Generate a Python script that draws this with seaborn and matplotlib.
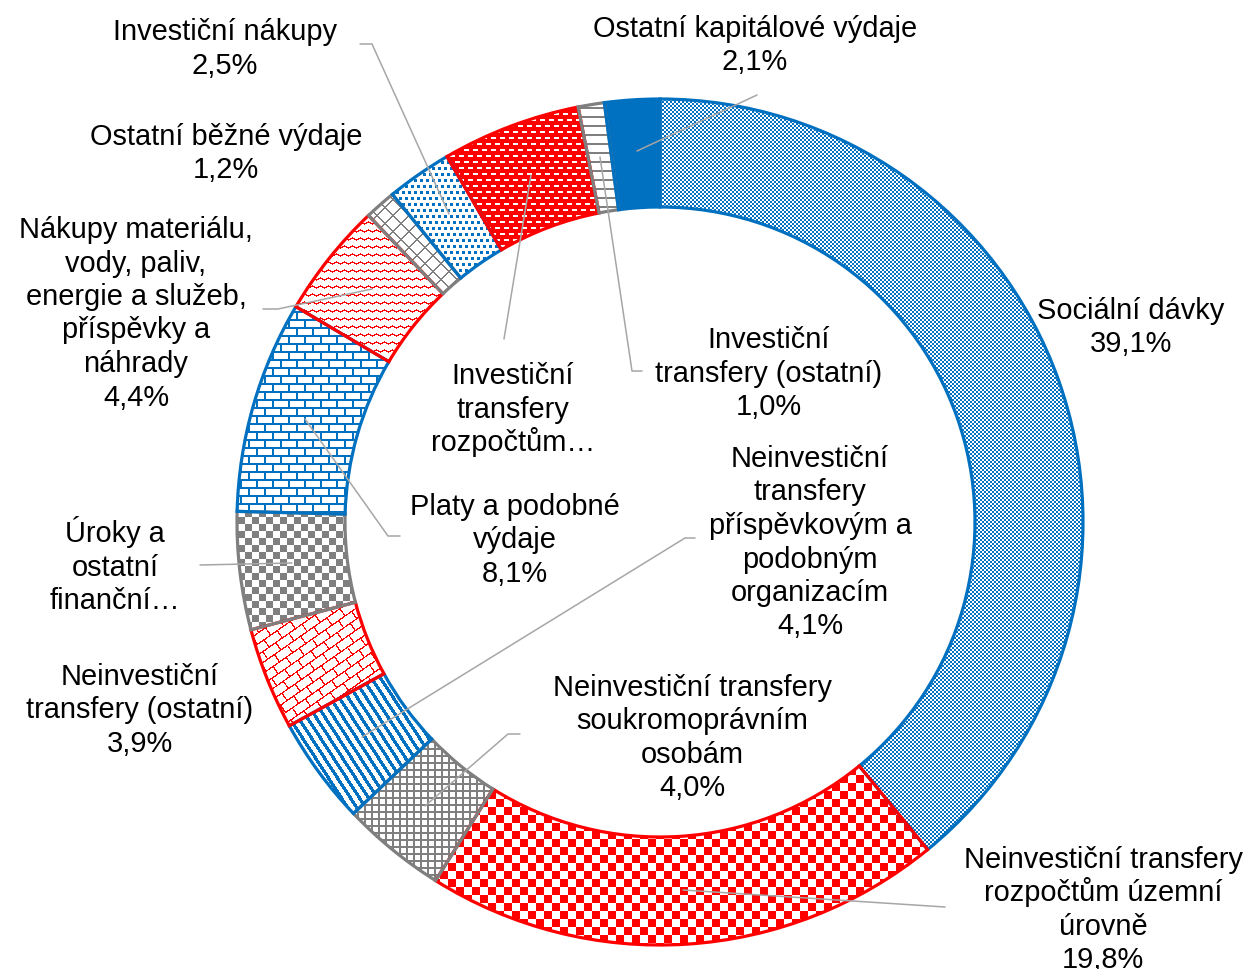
import numpy as np
import matplotlib
matplotlib.use('Agg')
import matplotlib.pyplot as plt
import seaborn as sns

sns.set_theme(style='white')
plt.rcParams['font.family'] = ['Liberation Sans', 'DejaVu Sans']

# data (clockwise from 12 o'clock)
categories = [
    'Sociální dávky',
    'Neinvestiční transfery rozpočtům územní úrovně',
    'Neinvestiční transfery soukromoprávním osobám',
    'Neinvestiční transfery příspěvkovým a podobným organizacím',
    'Neinvestiční transfery (ostatní)',
    'Úroky a ostatní finanční výdaje',
    'Platy a podobné výdaje',
    'Nákupy materiálu, vody, paliv, energie a služeb, příspěvky a náhrady',
    'Ostatní běžné výdaje',
    'Investiční nákupy',
    'Investiční transfery rozpočtům územní úrovně',
    'Investiční transfery (ostatní)',
    'Ostatní kapitálové výdaje',
]
shares = [39.1, 19.8, 4.0, 4.1, 3.9, 4.5, 8.1, 4.4, 1.2, 2.5, 5.3, 1.0, 2.1]
label_lines = [
    'Sociální dávky',
    'Neinvestiční transfery\nrozpočtům územní\núrovně',
    'Neinvestiční transfery\nsoukromoprávním\nosobám',
    'Neinvestiční\ntransfery\npříspěvkovým a\npodobným\norganizacím',
    'Neinvestiční\ntransfery (ostatní)',
    'Úroky a\nostatní\nfinanční…',
    'Platy a podobné\nvýdaje',
    'Nákupy materiálu,\nvody, paliv,\nenergie a služeb,\npříspěvky a\nnáhrady',
    'Ostatní běžné výdaje',
    'Investiční nákupy',
    'Investiční\ntransfery\nrozpočtům…',
    'Investiční\ntransfery (ostatní)',
    'Ostatní kapitálové výdaje',
]
show_value = [True, True, True, True, True, False, True, True, True, True, False, True, True]

BLUE, RED, GRAY = '#0070C0', '#FF0000', '#7F7F7F'
seg_colors = [BLUE, RED, GRAY] * 4 + [BLUE]
seg_patterns = ['fine_check', 'big_check', 'grid', 'stripes', 'diag_brick', 'check',
                'brick', 'wave', 'diag_cross', 'dots', 'dashes', 'hlines', 'solid']

# layout in image pixels (x, y of first text line)
label_pos = [(1131, 309), (1103, 858), (692, 686), (810, 457), (140, 675), (115, 532),
             (515, 505), (136, 228), (226, 135), (225, 30), (513, 374), (769, 338), (755, 27)]
leaders = [
    None,
    [(683, 891), (945, 908)],
    [(425, 807), (508, 735), (520, 735)],
    [(362, 738), (685, 539), (695, 539)],
    None,
    [(200, 566), (292, 564)],
    [(305, 420), (388, 537), (400, 537)],
    [(263, 310), (278, 310), (372, 290)],
    None,
    [(360, 45), (372, 45), (449, 215)],
    [(504, 340), (531, 176)],
    [(600, 158), (632, 372), (642, 372)],
    [(637, 152), (757, 96)],
]

W, H = 1248, 970
cx, cy, R, ring = 660, 523, 423, 108
yy, xx = np.mgrid[0:H, 0:W]


def texture(name):
    if name == 'fine_check':
        return (xx // 2 + yy // 2) % 2 == 0
    if name == 'big_check':
        return (xx // 8 + yy // 8) % 2 == 0
    if name == 'check':
        return (xx // 7 + yy // 7) % 2 == 0
    if name == 'grid':
        return (xx % 7 < 2) | (yy % 7 < 2)
    if name == 'stripes':
        return (xx - 0.65 * yy) % 9 < 4
    if name == 'diag_brick':
        th = np.deg2rad(35)
        u = xx * np.cos(th) - yy * np.sin(th)
        v = xx * np.sin(th) + yy * np.cos(th)
        row = np.floor(v / 9)
        return (v % 9 < 1.3) | ((u + 8 * (row % 2)) % 16 < 1.3)
    if name == 'brick':
        row = yy // 8
        return (yy % 8 < 2) | ((xx + 8 * (row % 2)) % 16 < 2)
    if name == 'wave':
        tri = np.abs(xx % 8 - 4) / 2
        return (yy + tri) % 8 < 1.5
    if name == 'diag_cross':
        return ((xx + yy) % 16 < 2) | ((xx - yy) % 16 < 2)
    if name == 'dots':
        row = yy // 6
        return (yy % 6 < 3) & ((xx + 3 * (row % 2)) % 6 < 3)
    if name == 'dashes':
        row = yy // 6
        return ~((yy % 6 < 2) & ((xx + 4 * (row % 2)) % 9 < 5))
    if name == 'hlines':
        return yy % 9 < 2
    return np.ones_like(xx, dtype=bool)


fig = plt.figure(figsize=(12.48, 9.7), dpi=100)
ax = fig.add_axes([0, 0, 1, 1])

wedges, _ = ax.pie(shares, startangle=90, counterclock=False, center=(cx, H - cy),
                   radius=R, frame=True,
                   wedgeprops=dict(width=ring, linewidth=2.3, facecolor='none'))

for w, col, pat in zip(wedges, seg_colors, seg_patterns):
    w.set_edgecolor(col)
    w.set_zorder(3)
    rgb = (np.array(matplotlib.colors.to_rgb(col)) * 255).astype(np.uint8)
    img = np.full((H, W, 4), 255, dtype=np.uint8)
    img[texture(pat), :3] = rgb
    im = ax.imshow(img, extent=(0, W, 0, H), origin='upper', interpolation='nearest', zorder=1)
    im.set_clip_path(w)

for i, (txt, pos) in enumerate(zip(label_lines, label_pos)):
    lines = txt.split('\n')
    if show_value[i]:
        lines.append(f'{shares[i]:.1f}%'.replace('.', ','))
    x, y0 = pos
    for k, line in enumerate(lines):
        ax.text(x, H - (y0 + k * 33.5 + 10), line, ha='center', va='baseline',
                fontsize=20.9, color='black', zorder=5)
    if leaders[i] is not None:
        px = [p[0] for p in leaders[i]]
        py = [H - p[1] for p in leaders[i]]
        ax.plot(px, py, color='#A6A6A6', lw=1.1, zorder=4)

ax.set_xlim(0, W)
ax.set_ylim(0, H)
ax.axis('off')
fig.savefig('out.png', dpi=100)
